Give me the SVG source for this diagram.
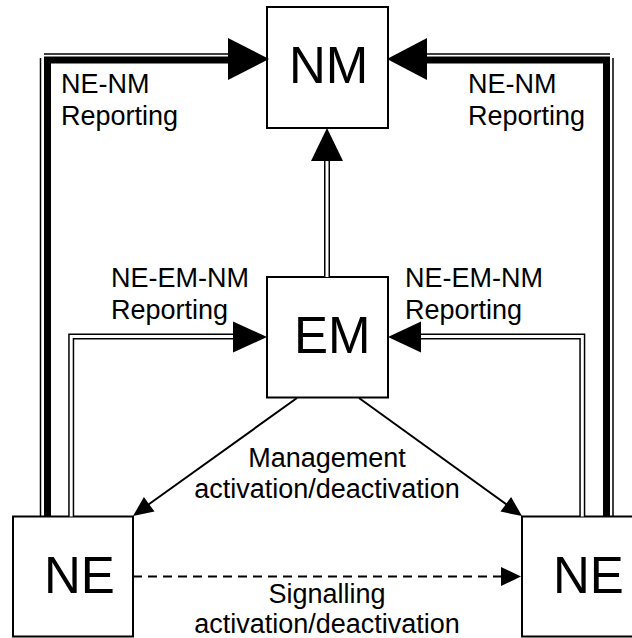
<svg xmlns="http://www.w3.org/2000/svg" width="632" height="638" viewBox="0 0 632 638">
<style>
.box{fill:#fff;stroke:#000;stroke-width:2}
.big{font-family:"Liberation Sans",Arial,sans-serif;font-size:51px;fill:#000}
.lbl{font-family:"Liberation Sans",Arial,sans-serif;font-size:27px;fill:#000}
.mid{text-anchor:middle}
.thick{fill:none;stroke:#000;stroke-width:7;stroke-linejoin:miter}
.thin{fill:none;stroke:#000;stroke-width:1.5}
.dblo{fill:none;stroke:#000;stroke-width:6;stroke-linejoin:miter}
.dbli{fill:none;stroke:#fff;stroke-width:3;stroke-linejoin:miter}
.line{fill:none;stroke:#000;stroke-width:2}
.dash{fill:none;stroke:#000;stroke-width:2;stroke-dasharray:9 6}
.head{fill:#000;stroke:none}
</style>
<g id="NM"><rect class="box" x="267" y="7" width="121" height="121"/><text class="big" x="289" y="83">NM</text></g>
<g id="EM"><rect class="box" x="267" y="277" width="121" height="120.5"/><text class="big" x="294" y="353">EM</text></g>
<g id="NE-left"><rect class="box" x="13" y="516.5" width="120" height="120"/><text class="big" x="44" y="593">NE</text></g>
<g id="NE-right"><rect class="box" x="522" y="516.5" width="120" height="120"/><text class="big" x="553" y="593">NE</text></g>
<g id="connectors">
<path class="thick" d="M47.5,516.5 V60 H232"/>
<path class="thin" d="M44,54 H232 M40.5,58 V516.5"/>
<polygon class="head" points="269,59 228,38 228,80"/>
<path class="thick" d="M606.5,516.5 V60 H423"/>
<path class="thin" d="M610,54 H423 M613,58 V516.5"/>
<polygon class="head" points="387,59 427,38 427,80"/>
<path class="dblo" d="M327,277 V158"/><path class="dbli" d="M327,277 V158"/>
<polygon class="head" points="327,128 311,161 343,161"/>
<path class="dblo" d="M71.2,516.5 V336.5 H236"/><path class="dbli" d="M71.2,516.5 V336.5 H236"/>
<polygon class="head" points="267,337 233,321.5 233,352.5"/>
<path class="dblo" d="M582.3,516.5 V336.5 H418"/><path class="dbli" d="M582.3,516.5 V336.5 H418"/>
<polygon class="head" points="388,337 421,321.5 421,352.5"/>
<path class="line" d="M297,398 L145,507"/>
<polygon class="head" points="133,516 154.5,511.6 143.9,497"/>
<path class="line" d="M359,398 L510,507"/>
<polygon class="head" points="522,516 500.5,511.6 511.1,497"/>
<path class="dash" d="M133,576.5 H503"/>
<polygon class="head" points="521,576.5 501,567 501,586"/>
</g>
<g id="labels">
<text class="lbl" x="61" y="93">NE-NM</text><text class="lbl" x="61" y="125">Reporting</text>
<text class="lbl" x="468" y="93">NE-NM</text><text class="lbl" x="468" y="125">Reporting</text>
<text class="lbl" x="111" y="287">NE-EM-NM</text><text class="lbl" x="111" y="319">Reporting</text>
<text class="lbl" x="405" y="287">NE-EM-NM</text><text class="lbl" x="405" y="319">Reporting</text>
<text class="lbl mid" x="327" y="467">Management</text><text class="lbl mid" x="327" y="498">activation/deactivation</text>
<text class="lbl mid" x="327" y="603">Signalling</text><text class="lbl mid" x="327" y="633">activation/deactivation</text>
</g>
</svg>
